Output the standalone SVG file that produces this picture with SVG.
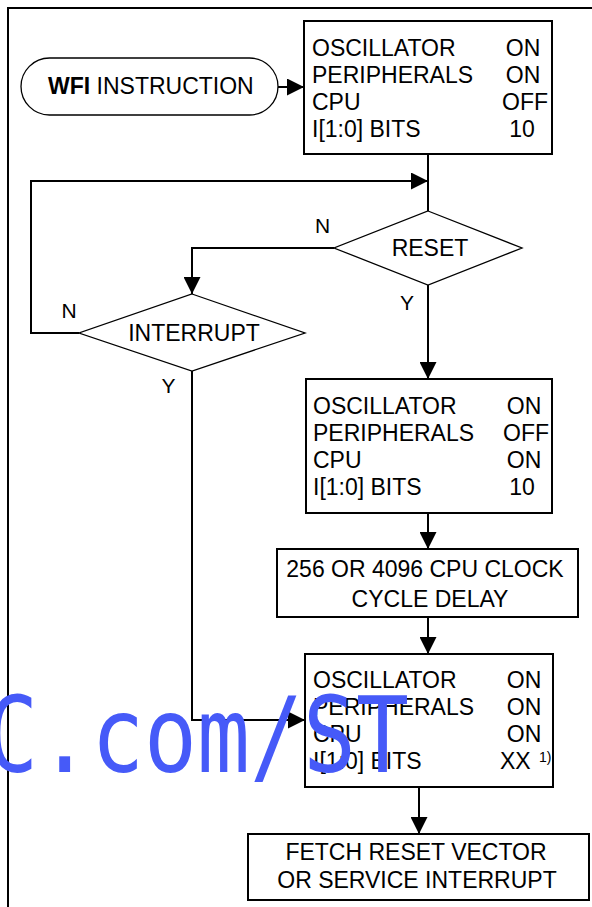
<svg xmlns="http://www.w3.org/2000/svg" width="592" height="907" viewBox="0 0 592 907">
<defs>
<marker id="ah" markerUnits="userSpaceOnUse" markerWidth="17" markerHeight="17" refX="17" refY="8.5" orient="auto" viewBox="0 0 17 17"><path d="M0,0 L17,8.5 L0,17 Z" fill="#000"/></marker>
<style>
text{font-family:"Liberation Sans",Arial,sans-serif;font-size:23px;fill:#000}
.box{fill:#fff;stroke:#000;stroke-width:2}
.dia{fill:#fff;stroke:#000;stroke-width:1.3}
.term{fill:#fff;stroke:#000;stroke-width:1.3}
.con{fill:none;stroke:#000;stroke-width:2}
.arr{marker-end:url(#ah)}
.lbl{font-size:21px;text-anchor:middle}
.mid{text-anchor:middle}
.sup{font-size:14px}
.wm{font-family:"DejaVu Sans Mono",monospace;font-size:88px;fill:#465af8}
</style>
</defs>
<rect width="592" height="907" fill="#fff"/>
<path d="M8,907 V8 H592" class="con"/>

<g id="connectors">
<path class="con arr" d="M278,87 H304"/>
<path class="con" d="M428,154 V211"/>
<path class="con arr" d="M79,333 H31 V181 H428"/>
<path class="con arr" d="M334,248 H192 V294"/>
<path class="con arr" d="M428,285 V379"/>
<path class="con arr" d="M192,371 V720 H305"/>
<path class="con arr" d="M428,513 V549"/>
<path class="con arr" d="M428,617 V654"/>
<path class="con arr" d="M419,787 V834"/>
<text class="lbl" x="322.5" y="233">N</text>
<text class="lbl" x="407" y="310">Y</text>
<text class="lbl" x="69" y="318">N</text>
<text class="lbl" x="168.5" y="393">Y</text>
</g>

<g id="wfi">
<rect class="term" x="21" y="58" width="257" height="57" rx="28.5"/>
<text x="48" y="94"><tspan font-weight="bold">WFI</tspan> INSTRUCTION</text>
</g>

<g id="state1">
<rect class="box" x="304" y="21" width="248" height="133"/>
<text x="312" y="56">OSCILLATOR</text>
<text x="312" y="83">PERIPHERALS</text>
<text x="312" y="110">CPU</text>
<text x="312" y="137">I[1:0] BITS</text>
<text class="mid" x="523" y="56">ON</text>
<text class="mid" x="523" y="83">ON</text>
<text class="mid" x="525" y="110">OFF</text>
<text class="mid" x="522" y="137">10</text>
</g>

<g id="reset">
<polygon class="dia" points="428,211 522,248 428,285 334,248"/>
<text class="mid" x="430" y="256">RESET</text>
</g>

<g id="interrupt">
<polygon class="dia" points="192,294 305,333 192,371 79,333"/>
<text class="mid" x="194" y="341">INTERRUPT</text>
</g>

<g id="state2">
<rect class="box" x="306" y="379" width="246" height="134"/>
<text x="313" y="414">OSCILLATOR</text>
<text x="313" y="441">PERIPHERALS</text>
<text x="313" y="468">CPU</text>
<text x="313" y="495">I[1:0] BITS</text>
<text class="mid" x="524" y="414">ON</text>
<text class="mid" x="526" y="441">OFF</text>
<text class="mid" x="524" y="468">ON</text>
<text class="mid" x="522" y="495">10</text>
</g>

<g id="delay">
<rect class="box" x="277" y="549" width="301" height="68"/>
<text class="mid" x="425" y="577">256 OR 4096 CPU CLOCK</text>
<text class="mid" x="430" y="607">CYCLE DELAY</text>
</g>

<g id="state3">
<rect class="box" x="305" y="654" width="248" height="133"/>
<text x="313" y="688">OSCILLATOR</text>
<text x="313" y="715">PERIPHERALS</text>
<text x="313" y="742">CPU</text>
<text x="313" y="769">I[1:0] BITS</text>
<text class="mid" x="524" y="688">ON</text>
<text class="mid" x="524" y="715">ON</text>
<text class="mid" x="524" y="742">ON</text>
<text x="500" y="769">XX</text>
<text class="sup" x="539" y="762">1)</text>
</g>

<g id="fetch">
<rect class="box" x="248" y="834" width="341" height="66"/>
<text class="mid" x="416" y="860">FETCH RESET VECTOR</text>
<text class="mid" x="417" y="888">OR SERVICE INTERRUPT</text>
</g>

<text class="wm" transform="translate(-14.8,772) scale(1,1.2)" x="0" y="0">C.com/ST</text>
</svg>
